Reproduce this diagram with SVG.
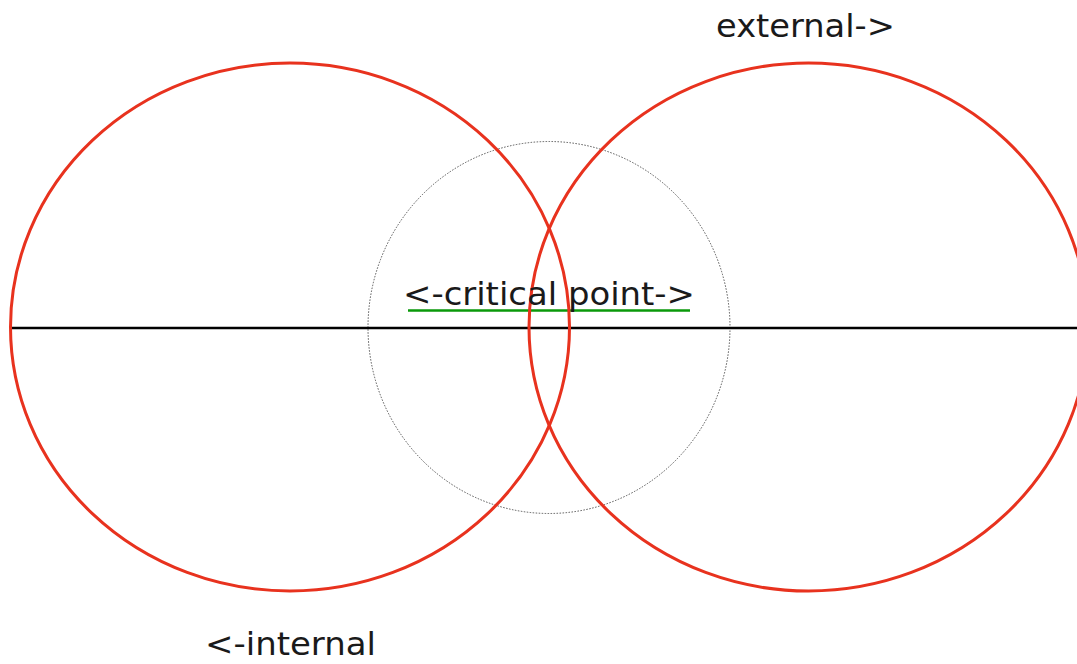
<svg xmlns="http://www.w3.org/2000/svg" width="1077" height="664" viewBox="0 0 1077 664">
<style>
.lbl{font-family:"DejaVu Sans","Liberation Sans",sans-serif;font-size:32px;fill:#1a1a1a}
.ring{fill:none;stroke:#e8321e;stroke-width:3}
</style>
<rect width="1077" height="664" fill="#ffffff"/>
<g id="critical-zone">
<ellipse cx="549" cy="327.5" rx="181" ry="186" fill="none" stroke="#555" stroke-width="1" stroke-dasharray="1.5,1.5"/>
</g>
<g id="connectors">
<line x1="10" y1="328" x2="1077" y2="328" stroke="#000" stroke-width="2.5"/>
<line x1="408" y1="310.5" x2="690" y2="310.5" stroke="#0a990a" stroke-width="2.5"/>
</g>
<g id="internal">
<ellipse class="ring" cx="290" cy="327" rx="279.5" ry="264"/>
<text class="lbl" x="205" y="655" textLength="171" lengthAdjust="spacingAndGlyphs">&lt;-internal</text>
</g>
<g id="external">
<ellipse class="ring" cx="808.5" cy="327" rx="279.5" ry="264"/>
<text class="lbl" x="716" y="37" textLength="179" lengthAdjust="spacingAndGlyphs">external-&gt;</text>
</g>
<g id="critical-point">
<text class="lbl" x="403" y="305" textLength="292" lengthAdjust="spacingAndGlyphs">&lt;-critical point-&gt;</text>
</g>
</svg>
